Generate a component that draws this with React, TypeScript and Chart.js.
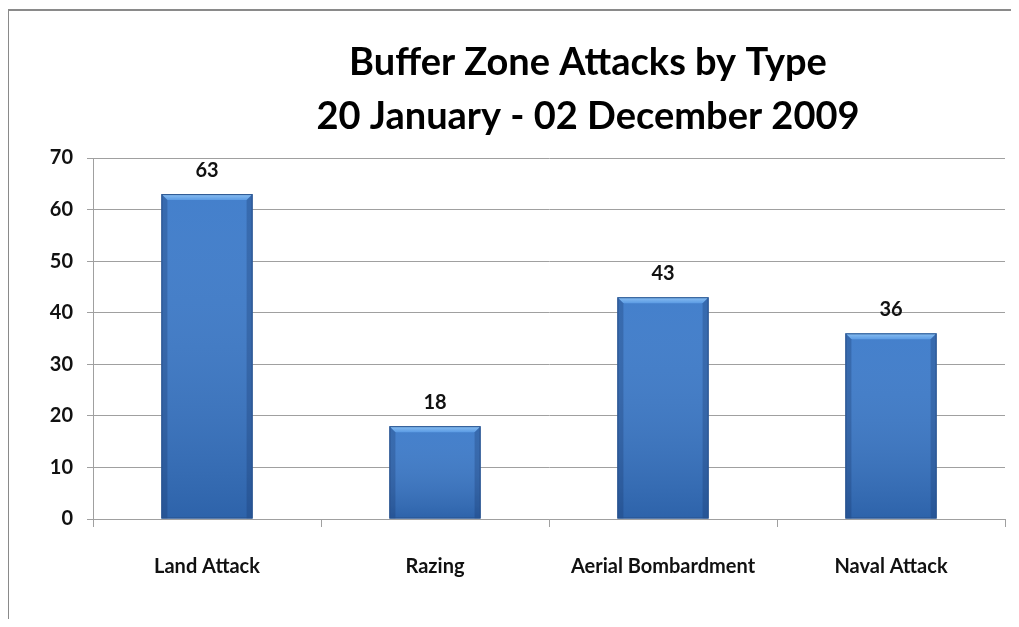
import React, { useEffect, useRef } from "react";
import { Chart, registerables } from "chart.js";

Chart.register(...registerables);

const categories = ["Land Attack", "Razing", "Aerial Bombardment", "Naval Attack"];
const attacks = [63, 18, 43, 36];
const titleLines = ["Buffer Zone Attacks by Type", "20 January - 02 December 2009"];
const yMin = 0;
const yMax = 70;
const yStep = 10;

const FONT = "Lato, 'Open Sans', sans-serif";

const framePlugin = {
  id: "frame",
  beforeDraw(chart: any) {
    const ctx = chart.ctx;
    ctx.save();
    ctx.fillStyle = "#ffffff";
    ctx.fillRect(0, 0, chart.width, chart.height);
    ctx.strokeStyle = "#8a8a8a";
    ctx.lineWidth = 2;
    ctx.beginPath();
    ctx.moveTo(0, chart.height);
    ctx.lineTo(0, 2);
    ctx.lineTo(chart.width, 2);
    ctx.stroke();
    ctx.restore();
  },
};

const titlePlugin = {
  id: "customTitle",
  afterDraw(chart: any) {
    const ctx = chart.ctx;
    ctx.save();
    ctx.fillStyle = "#000000";
    ctx.font = `bold 38px ${FONT}`;
    ctx.textAlign = "center";
    ctx.textBaseline = "alphabetic";
    const cx = 580;
    ctx.fillText(titleLines[0], cx, 67);
    ctx.fillText(titleLines[1], cx, 121);
    ctx.restore();
  },
};

const barStylePlugin = {
  id: "barStyle",
  afterDatasetsDraw(chart: any) {
    const ctx = chart.ctx;
    const meta = chart.getDatasetMeta(0);
    ctx.save();
    meta.data.forEach((bar: any, i: number) => {
      const w = bar.width;
      const left = bar.x - w / 2;
      const right = bar.x + w / 2;
      const top = bar.y;
      const bottom = bar.base;
      const b = 6;
      const vg = ctx.createLinearGradient(0, top, 0, bottom);
      vg.addColorStop(0, "rgba(255,255,255,0.05)");
      vg.addColorStop(1, "rgba(0,20,60,0.22)");
      ctx.fillStyle = vg;
      ctx.fillRect(left, top, w, bottom - top);
      ctx.beginPath();
      ctx.moveTo(left, top);
      ctx.lineTo(right, top);
      ctx.lineTo(right - b, top + b);
      ctx.lineTo(left + b, top + b);
      ctx.closePath();
      const tg = ctx.createLinearGradient(0, top, 0, top + b);
      tg.addColorStop(0, "#8cc0f2");
      tg.addColorStop(1, "#5b9be4");
      ctx.fillStyle = tg;
      ctx.fill();
      ctx.beginPath();
      ctx.moveTo(left, top);
      ctx.lineTo(left + b, top + b);
      ctx.lineTo(left + b, bottom);
      ctx.lineTo(left, bottom);
      ctx.closePath();
      ctx.fillStyle = "rgba(20,50,100,0.28)";
      ctx.fill();
      ctx.beginPath();
      ctx.moveTo(right, top);
      ctx.lineTo(right - b, top + b);
      ctx.lineTo(right - b, bottom);
      ctx.lineTo(right, bottom);
      ctx.closePath();
      ctx.fillStyle = "rgba(20,50,100,0.28)";
      ctx.fill();
      ctx.strokeStyle = "#28528c";
      ctx.lineWidth = 1;
      ctx.strokeRect(left + 0.5, top + 0.5, w - 1, bottom - top - 1);
      ctx.fillStyle = "#111111";
      ctx.font = `bold 20px ${FONT}`;
      ctx.textAlign = "center";
      ctx.textBaseline = "middle";
      ctx.fillText(String(attacks[i]), bar.x, top - 24);
    });
    ctx.restore();
  },
};

export default function App() {
  const ref = useRef<HTMLCanvasElement | null>(null);
  useEffect(() => {
    if (!ref.current) return;
    const chart = new Chart(ref.current, {
      type: "bar",
      data: {
        labels: categories,
        datasets: [
          {
            label: "Attacks",
            data: attacks,
            backgroundColor: "#3a79c9",
            borderWidth: 0,
            categoryPercentage: 0.8,
            barPercentage: 0.5,
          },
        ],
      },
      options: {
        animation: false,
        responsive: false,
        layout: { padding: { top: 150, right: 14, bottom: 0, left: 0 } },
        plugins: {
          legend: { display: false },
          title: { display: false },
          tooltip: { enabled: false },
        },
        scales: {
          x: {
            offset: true,
            grid: {
              display: true,
              drawOnChartArea: false,
              offset: true,
              color: "#a0a0a0",
              tickLength: 8,
            },
            border: { color: "#a0a0a0", width: 1 },
            ticks: {
              color: "#111111",
              font: { family: FONT, size: 20, weight: "bold" },
              padding: 28,
            },
            afterFit(scale: any) {
              scale.height = 100;
            },
          },
          y: {
            min: yMin,
            max: yMax,
            ticks: {
              stepSize: yStep,
              color: "#111111",
              font: { family: FONT, size: 20, weight: "bold" },
              padding: 14,
            },
            grid: { color: "#a0a0a0", tickLength: 6 },
            border: { color: "#a0a0a0", width: 1 },
            afterFit(scale: any) {
              scale.width = 85;
            },
          },
        },
      },
      plugins: [framePlugin, barStylePlugin, titlePlugin],
    });
    return () => chart.destroy();
  }, []);
  return (
    <div style={{ width: 1011, height: 611 }}>
      <canvas ref={ref} width={1011} height={611} style={{ display: "block" }} />
    </div>
  );
}
